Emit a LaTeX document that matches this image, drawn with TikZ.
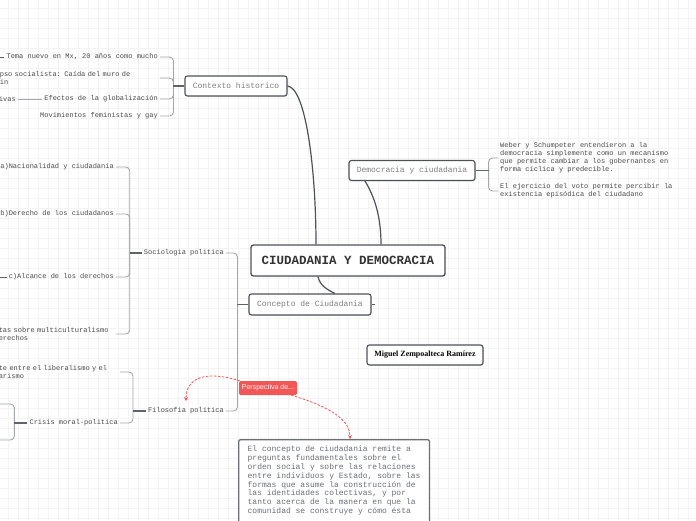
\documentclass[tikz,border=0pt]{standalone}
\usepackage{fontspec}
\setmonofont{Liberation Mono}[WordSpace={1,0,0}]
\newfontfamily\authorfont{Liberation Serif}
\newfontfamily\tagfont{Liberation Sans}
\usepackage{tikz}
\usetikzlibrary{shapes,shadows,arrows.meta,calc}

\definecolor{cBorder}{HTML}{4D5259}
\definecolor{cLine}{HTML}{A3A7AC}
\definecolor{cStub}{HTML}{5F646B}
\definecolor{cTopicText}{HTML}{7E7E7E}
\definecolor{cLeafText}{HTML}{4A4A4A}
\definecolor{cNote}{HTML}{6B6F75}
\definecolor{cRed}{HTML}{F25757}
\definecolor{cGrid}{HTML}{F3F3F3}

\tikzstyle{tsLeaf} = [
    text=cLeafText,
    font=\ttfamily\fontsize{7}{8}\selectfont,
    inner sep=2pt,
    align=left
]
\tikzstyle{tsTopic} = [
    rectangle,
    rounded corners=2.5pt,
    draw=cBorder,
    line width=1.1pt,
    fill=white,
    text=cTopicText,
    font=\ttfamily\fontsize{8}{9}\selectfont,
    minimum height=20pt,
    drop shadow={shadow xshift=0.7pt, shadow yshift=-0.9pt, opacity=0.2}
]
\tikzstyle{tsCentral} = [
    tsTopic,
    text=black!80,
    font=\ttfamily\bfseries\fontsize{12.5}{14}\selectfont,
    minimum width=194pt,
    minimum height=31pt,
    line width=1.3pt
]
\tikzstyle{tsAuthor} = [
    tsTopic,
    text=black,
    font=\authorfont\bfseries\fontsize{8}{9}\selectfont,
    minimum width=116pt
]
\tikzstyle{tsTag} = [
    rectangle,
    rounded corners=1.5pt,
    fill=cRed,
    text=white,
    font=\tagfont\fontsize{7}{8}\selectfont,
    minimum width=58pt,
    minimum height=14pt,
    inner sep=1pt
]
\tikzstyle{tsNote} = [
    rectangle,
    rounded corners=2pt,
    draw=cNote,
    line width=1.3pt,
    fill=white,
    text=cNote,
    font=\ttfamily\fontsize{8}{8.9}\selectfont,
    align=left,
    inner xsep=9pt,
    inner ysep=6pt
]
\tikzstyle{tsBranch} = [draw=cLine, line width=0.9pt, rounded corners=4pt]
\tikzstyle{tsStub} = [draw=cStub, line width=1.3pt]
\tikzstyle{tsMain} = [draw=cBorder, line width=1.2pt]
\tikzstyle{tsLink} = [
    draw=cRed,
    dashed,
    dash pattern=on 2.5pt off 1.5pt,
    line width=0.8pt,
    -{Stealth[length=4pt, width=4pt]}
]

\begin{document}
\begin{tikzpicture}[x=1pt, y=-1pt]

        \useasboundingbox (0,0) rectangle (696,520);
        \clip (0,0) rectangle (696,520);
        \fill[white] (0,0) rectangle (696,520);

        % grid
        \foreach \gx in {8.3,18.3,...,700}
            \draw[cGrid, line width=0.6pt] (\gx,0) -- (\gx,520);
        \foreach \gy in {8.3,18.3,...,524}
            \draw[cGrid, line width=0.6pt] (0,\gy) -- (696,\gy);

        % topics
        \node[tsCentral] (main) at (348,260.5) {CIUDADANIA Y DEMOCRACIA};
        \node[tsTopic, minimum width=102pt] (ctx) at (236,86) {Contexto historico};
        \node[tsTopic, minimum width=126pt] (dem) at (412,170.5) {Democracia y ciudadania};
        \node[tsTopic, minimum width=122pt, minimum height=21pt] (con) at (310,304.5) {Concepto de Ciudadania};
        \node[tsAuthor] (aut) at (425,355) {Miguel Zempoalteca Ramírez};

        % contexto historico
        \node[tsLeaf, anchor=east] (ctxA) at (160,57) {Tema nuevo en Mx, 20 años como mucho};
        \node[tsLeaf, anchor=east, text width=158pt] (ctxB) at (160,78) {pso socialista: Caída del muro de\\in};
        \node[tsLeaf, anchor=east] (ctxC) at (160,99) {Efectos de la globalización};
        \node[tsLeaf, anchor=east] (ctxC1) at (18,99) {ivas};
        \node[tsLeaf, anchor=east] (ctxD) at (160,116) {Movimientos feministas y gay};
        \coordinate (ctxA0) at (-10,57);

        % sociologia politica
        \node[tsLeaf, anchor=east] (soc) at (226,253) {Sociologia politica};
        \node[tsLeaf, anchor=east] (socA) at (116,167) {a)Nacionalidad y ciudadania};
        \node[tsLeaf, anchor=east] (socB) at (116,214) {b)Derecho de los ciudadanos};
        \node[tsLeaf, anchor=east] (socC) at (116,277) {c)Alcance de los derechos};
        \node[tsLeaf, anchor=east, text width=115pt] (socD) at (116,334) {tas sobre multiculturalismo\\erechos};
        \coordinate (socC0) at (-10,277);

        % filosofia politica
        \node[tsLeaf, anchor=east] (fil) at (226,411) {Filosofia politica};
        \node[tsLeaf, anchor=east, text width=119pt] (filA) at (120,372) {te entre el liberalismo y el\\arismo};
        \node[tsLeaf, anchor=east] (filB) at (120,423) {Crisis moral-politica};
        \coordinate (crA) at (-10,404);
        \coordinate (crB) at (-10,440);

        % democracia y ciudadania
        \node[tsLeaf, anchor=west] (demA) at (498,158) {Weber y Schumpeter entendieron a la\\democracia simplemente como un mecanismo\\que permite cambiar a los gobernantes en\\forma cíclica y predecible.};
        \node[tsLeaf, anchor=west] (demB) at (498,191) {El ejercicio del voto permite percibir la\\existencia episódica del ciudadano};

        % note
        \node[tsNote, anchor=north west] (note) at (238,439) {El concepto de ciudadania remite a\\preguntas fundamentales sobre el\\orden social y sobre las relaciones\\entre individuos y Estado, sobre las\\formas que asume la construcción de\\las identidades colectivas, y por\\tanto acerca de la manera en que la\\comunidad se construye y cómo ésta\\[4pt]~};

        % main connectors
        \draw[tsMain] (ctx.east) .. controls (306,88) and (316,170) .. ($(main.north)+(-32,0)$);
        \draw[tsMain] ($(dem.south)+(-47,0)$) .. controls (374,196) and (381,215) .. ($(main.north)+(33,0)$);
        \draw[tsMain] ($(main.south)+(-30,0)$) .. controls (320,286) and (328,290) .. ($(con.north)+(25,0)$);

        % brackets
        \foreach \leaf in {ctxA,ctxB,ctxC,ctxD}
            \draw[tsBranch] (\leaf.east) -| ($(ctx.west)+(-11,0)$);
        \draw[tsStub] (ctx.west) -- ++(-11,0);
        \draw[tsBranch] (ctxC.west) -- (ctxC1.east);
        \draw[tsStub, line width=1pt] (ctxA.west) -- (ctxA0);

        \foreach \leaf in {socA,socB,socC,socD}
            \draw[tsBranch] (\leaf.east) -| ($(soc.west)+(-12,0)$);
        \draw[tsStub] (soc.west) -- ++(-12,0);
        \draw[tsStub, line width=1pt] (socC.west) -- (socC0);

        \foreach \leaf in {filA,filB}
            \draw[tsBranch] (\leaf.east) -| ($(fil.west)+(-13,0)$);
        \draw[tsStub] (fil.west) -- ++(-13,0);
        \foreach \leaf in {crA,crB}
            \draw[tsBranch] (\leaf) -| ($(filB.west)+(-13,0)$);
        \draw[tsStub] (filB.west) -- ++(-13,0);

        \foreach \leaf in {soc,fil}
            \draw[tsBranch] (\leaf.east) -| ($(con.west)+(-11,0)$);
        \draw[tsStub] (con.west) -- ++(-11,0);
        \coordinate (conTip) at ($(con.east)+(3,0)$);
        \draw[tsStub] (con.east) -- (conTip);

        \foreach \leaf in {demA,demB}
            \draw[tsBranch] (\leaf.west) -| ($(dem.east)+(13,0)$);
        \draw[tsStub] (dem.east) -- ++(13,0);

        % perspectiva
        \node[tsTag] (pers) at (268,388) {Perspectiva de...};
        \coordinate (persEnd) at (186,401);
        \draw[tsLink] ($(pers.north west)+(1,0)$) .. controls (205,370) and (186,378) .. (persEnd);
        \draw[tsLink] ($(pers.south east)+(-6,0)$) .. controls (335,408) and (350,422) .. ($(note.north)+(16,0)$);

\end{tikzpicture}
\end{document}
